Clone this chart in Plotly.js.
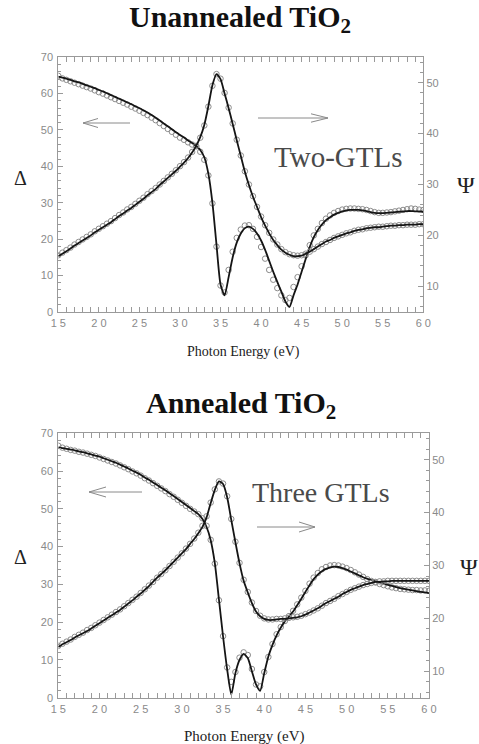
<!DOCTYPE html>
<html>
<head>
<meta charset="utf-8">
<script src="https://cdn.plot.ly/plotly-3.0.1.min.js"></script>
<style>html,body{margin:0;padding:0;background:#fff;}#chart{width:479px;height:744px;}</style>
</head>
<body>
<div id="chart"></div>
<script>
// ---------- data ----------
var energy = [1.5,1.55,1.6,1.65,1.7,1.75,1.8,1.85,1.9,1.95,
2.0,2.05,2.1,2.15,2.2,2.25,2.3,2.35,2.4,2.45,
2.5,2.55,2.6,2.65,2.7,2.75,2.8,2.85,2.9,2.95,
3.0,3.05,3.1,3.15,3.2,3.25,3.3,3.35,3.4,3.45,
3.5,3.55,3.6,3.65,3.7,3.75,3.8,3.85,3.9,3.95,
4.0,4.05,4.1,4.15,4.2,4.25,4.3,4.35,4.4,4.45,
4.5,4.55,4.6,4.65,4.7,4.75,4.8,4.85,4.9,4.95,
5.0,5.05,5.1,5.15,5.2,5.25,5.3,5.35,5.4,5.45,
5.5,5.55,5.6,5.65,5.7,5.75,5.8,5.85,5.9,5.95,
6.0];

// Unannealed TiO2 (two GTLs)
var unDeltaFit = [64.7,64.4,64.1,63.8,63.4,63.1,62.7,62.3,61.9,61.5,
61.0,60.6,60.1,59.6,59.1,58.6,58.1,57.6,57.1,56.5,
56.0,55.4,54.8,54.1,53.4,52.6,51.8,51.0,50.2,49.4,
48.6,47.9,47.1,46.4,45.6,44.5,42.5,38.0,30.0,18.5,
7.5,4.5,9.5,15.0,19.0,21.5,23.0,23.4,22.8,21.5,
19.6,17.0,14.0,11.0,8.2,5.5,2.8,1.3,4.5,7.5,
11.0,14.5,17.8,20.5,22.5,24.0,25.2,26.0,26.7,27.2,
27.6,27.9,28.0,28.0,28.0,27.9,27.7,27.4,27.2,27.1,
27.1,27.2,27.3,27.4,27.5,27.6,27.7,27.7,27.6,27.6,
27.5];
var unDeltaExp = [64.9,64.2,63.8,63.4,63.0,62.6,62.2,61.8,61.4,60.9,
60.4,60.0,59.5,59.0,58.5,58.0,57.5,57.0,56.4,55.9,
55.3,54.7,54.1,53.4,52.7,51.9,51.1,50.3,49.5,48.7,
47.9,47.3,46.6,46.0,45.5,44.0,41.8,37.5,29.8,17.9,
7.2,5.3,11.5,16.5,20.3,22.6,23.7,23.8,22.8,20.6,
17.8,14.6,11.5,8.8,6.5,4.5,3.2,3.8,6.8,9.5,
12.5,15.5,18.3,21.0,22.8,24.4,25.6,26.5,27.2,27.7,
28.1,28.3,28.4,28.4,28.3,28.2,28.0,27.7,27.4,27.2,
27.2,27.3,27.4,27.6,27.8,28.0,28.2,28.4,28.3,28.1,
28.0];
var unPsiFit = [15.9,16.4,16.9,17.4,18.0,18.5,19.0,19.5,20.0,20.6,
21.1,21.6,22.1,22.6,23.2,23.8,24.3,24.9,25.4,26.0,
26.6,27.2,27.9,28.5,29.1,29.9,30.6,31.3,32.0,32.7,
33.5,34.3,35.2,36.3,37.6,39.3,41.7,45.4,49.5,51.7,
50.7,47.9,45.0,41.9,38.7,35.6,32.5,29.9,27.6,25.6,
23.6,21.9,20.4,19.1,18.1,17.2,16.6,16.2,15.9,15.9,
16.0,16.4,16.8,17.3,17.8,18.3,18.8,19.1,19.5,19.8,
20.1,20.4,20.6,20.9,21.1,21.2,21.4,21.5,21.6,21.6,
21.7,21.8,21.9,21.9,22.0,22.0,22.1,22.1,22.1,22.2,
22.2];
var unPsiExp = [16.1,16.6,17.1,17.6,18.2,18.7,19.2,19.7,20.2,20.8,
21.3,21.8,22.3,22.8,23.4,24.0,24.5,25.1,25.6,26.2,
26.8,27.4,28.1,28.7,29.3,30.0,30.7,31.4,32.1,32.8,
33.6,34.4,35.3,36.4,37.6,39.2,41.6,45.3,49.4,51.7,
50.8,48.0,45.1,42.0,38.8,35.7,32.6,30.0,27.7,25.6,
23.7,22.0,20.5,19.2,18.2,17.3,16.7,16.3,16.1,16.0,
16.1,16.4,16.8,17.3,17.8,18.3,18.7,19.1,19.5,19.8,
20.1,20.4,20.6,20.9,21.1,21.2,21.4,21.5,21.6,21.7,
21.7,21.8,21.9,21.9,22.0,22.0,22.1,22.1,22.1,22.2,
22.2];

// Annealed TiO2 (three GTLs)
var anDeltaFit = [66.3,66.1,65.9,65.7,65.5,65.2,65.0,64.7,64.4,64.1,
63.8,63.4,63.0,62.6,62.2,61.7,61.2,60.7,60.1,59.6,
59.0,58.3,57.7,57.0,56.3,55.6,54.9,54.1,53.4,52.6,
51.8,51.0,50.2,49.4,48.6,47.3,45.2,41.7,35.6,26.0,
16.2,7.5,0.8,6.5,10.0,11.6,10.5,7.0,3.5,1.8,
6.5,10.9,14.0,16.5,18.5,20.2,21.5,22.8,24.5,26.2,
28.0,29.8,31.4,32.6,33.5,34.1,34.5,34.7,34.6,34.3,
33.9,33.4,32.9,32.4,31.9,31.5,31.1,30.8,30.5,30.2,
29.9,29.6,29.3,29.0,28.8,28.6,28.4,28.2,28.0,27.9,
27.7];
var anDeltaExp = [66.7,66.2,65.9,65.6,65.4,65.1,64.9,64.6,64.3,64.0,
63.6,63.2,62.8,62.4,62.0,61.5,61.0,60.5,59.9,59.4,
58.8,58.1,57.5,56.8,56.1,55.4,54.7,53.9,53.2,52.4,
51.6,50.8,50.0,49.3,48.6,47.5,45.5,41.8,35.5,25.8,
16.3,8.0,4.2,6.8,10.6,12.0,11.3,7.6,3.5,3.0,
6.8,10.8,14.2,16.8,18.7,20.3,21.6,23.0,24.7,26.5,
28.3,30.2,31.8,33.0,34.0,34.6,35.0,35.1,35.0,34.7,
34.3,33.8,33.2,32.6,32.0,31.4,30.9,30.5,30.1,29.8,
29.5,29.2,29.0,28.8,28.7,28.6,28.5,28.5,28.4,28.4,
28.3];
var anPsiFit = [14.6,15.1,15.5,15.9,16.4,16.8,17.2,17.6,18.1,18.6,
19.1,19.6,20.1,20.6,21.1,21.6,22.2,22.8,23.4,24.1,
24.7,25.4,26.1,26.9,27.7,28.4,29.1,29.9,30.7,31.5,
32.3,33.1,34.1,35.0,36.1,37.3,39.1,41.8,44.3,45.9,
45.4,42.9,38.6,34.4,30.4,27.1,24.9,22.9,21.3,20.4,
19.9,19.7,19.7,19.8,19.9,19.9,20.0,20.1,20.2,20.4,
20.7,21.1,21.5,21.9,22.4,22.9,23.3,23.7,24.1,24.6,
25.0,25.4,25.7,26.0,26.3,26.5,26.7,26.9,26.9,27.0,
27.0,27.1,27.1,27.1,27.1,27.1,27.1,27.1,27.1,27.1,
27.1];
var anPsiExp = [14.8,15.2,15.6,16.0,16.5,16.9,17.3,17.8,18.2,18.7,
19.2,19.7,20.2,20.7,21.2,21.7,22.3,22.9,23.5,24.1,
24.8,25.5,26.2,26.9,27.7,28.4,29.1,29.9,30.7,31.5,
32.3,33.2,34.1,35.1,36.2,37.5,39.3,41.9,44.4,45.9,
45.5,43.1,38.8,34.5,30.5,27.3,25.0,23.0,21.4,20.5,
20.0,19.8,19.8,19.9,19.9,20.0,20.1,20.2,20.3,20.5,
20.8,21.1,21.5,21.9,22.4,22.9,23.3,23.7,24.2,24.6,
25.0,25.4,25.7,26.0,26.3,26.5,26.7,26.9,27.0,27.0,
27.1,27.1,27.1,27.1,27.1,27.1,27.1,27.1,27.1,27.1,
27.1];

var xTickVals = [1.5,2.0,2.5,3.0,3.5,4.0,4.5,5.0,5.5,6.0];
var xTickLabels = ["1 5","2 0","2 5","3 0","3 5","4 0","4 5","5 0","5 5","6 0"];
var deltaTickVals = [0,10,20,30,40,50,60,70];
var psiTickVals = [10,20,30,40,50];

// ---------- layout helpers ----------
var W = 479, H = 744;
function px(x){ return x / W; }
function py(y){ return 1 - y / H; }

var tickFont = {family: "Liberation Sans, Arial, sans-serif", size: 11, color: "#8a8a8a"};
var serif = "Liberation Serif, Times New Roman, serif";
var axisCol = "#9a9a9a";

function xAxis(dom, anchor){
  return {domain: dom, anchor: anchor, range: [1.5, 6.0], tickmode: "array",
    tickvals: xTickVals, ticktext: xTickLabels, ticks: "inside", ticklen: 5,
    tickcolor: axisCol, showline: true, linecolor: axisCol, linewidth: 1,
    mirror: "allticks", showgrid: false, zeroline: false, tickfont: tickFont,
    ticklabelstandoff: 1,
    minor: {ticks: "inside", ticklen: 3, tickcolor: axisCol, tickmode: "linear", tick0: 1.5, dtick: 0.1, showgrid: false}};
}
function yLeft(dom, anchor){
  return {domain: dom, anchor: anchor, range: [0, 70], tickmode: "array",
    tickvals: deltaTickVals, ticks: "inside", ticklen: 5, tickcolor: axisCol,
    showline: true, linecolor: axisCol, linewidth: 1, showgrid: false,
    zeroline: false, tickfont: tickFont, ticklabelstandoff: 2,
    minor: {ticks: "inside", ticklen: 3, tickcolor: axisCol, tickmode: "linear", tick0: 0, dtick: 2, showgrid: false}};
}
function yRight(over, anchor){
  return {overlaying: over, anchor: anchor, side: "right", range: [5, 55],
    tickmode: "array", tickvals: psiTickVals, ticks: "inside", ticklen: 5,
    tickcolor: axisCol, showline: true, linecolor: axisCol, linewidth: 1,
    showgrid: false, zeroline: false, tickfont: tickFont,
    minor: {ticks: "inside", ticklen: 3, tickcolor: axisCol, tickmode: "linear", tick0: 0, dtick: 2, showgrid: false}};
}

function expTrace(y, xa, ya){
  return {x: energy, y: y, xaxis: xa, yaxis: ya, type: "scatter", mode: "markers",
    marker: {symbol: "circle-open", size: 5.5, color: "#8c8c8c", line: {width: 1, color: "#8c8c8c"}},
    hoverinfo: "skip"};
}
function fitTrace(y, xa, ya){
  return {x: energy, y: y, xaxis: xa, yaxis: ya, type: "scatter", mode: "lines",
    line: {color: "#151515", width: 1.8, shape: "spline", smoothing: 0.6},
    hoverinfo: "skip"};
}

var data = [
  expTrace(unDeltaExp, "x", "y"), expTrace(unPsiExp, "x", "y2"),
  fitTrace(unDeltaFit, "x", "y"), fitTrace(unPsiFit, "x", "y2"),
  expTrace(anDeltaExp, "x2", "y3"), expTrace(anPsiExp, "x2", "y4"),
  fitTrace(anDeltaFit, "x2", "y3"), fitTrace(anPsiFit, "x2", "y4")
];

function ann(text, x, y, size, opts){
  var a = {text: text, x: px(x), y: py(y), xref: "paper", yref: "paper",
    showarrow: false, xanchor: "center", yanchor: "middle",
    font: {family: serif, size: size, color: "#222"}};
  if (opts) for (var k in opts) a[k] = opts[k];
  return a;
}

var annotations = [
  ann("<b>Unannealed TiO<sub>2</sub></b>", 240, 19, 30, {font: {family: serif, size: 30, color: "#111"}}),
  ann("<b>Annealed TiO<sub>2</sub></b>", 241, 405, 30, {font: {family: serif, size: 30, color: "#111"}}),
  ann("Photon Energy (eV)", 243, 352, 14),
  ann("Photon Energy (eV)", 244, 736, 15),
  ann("\u0394", 20, 178, 20),
  ann("\u03A8", 466, 185, 24),
  ann("\u0394", 20, 557, 20),
  ann("\u03A8", 469, 567, 24),
  ann("Two-GTLs", 338, 157, 29, {font: {family: serif, size: 29, color: "#4a4a4a"}}),
  ann("Three GTLs", 321, 492, 28, {font: {family: serif, size: 28, color: "#4a4a4a"}})
];

function arrowPath(x1, x2, y, headLen, headHalf){
  // line from x1 to tip x2 with open chevron head at x2
  var dir = x2 > x1 ? -1 : 1;
  var hx = x2 + dir * headLen;
  return "M" + px(x1) + "," + py(y) + " L" + px(x2) + "," + py(y) +
    " M" + px(hx) + "," + py(y - headHalf) + " L" + px(x2) + "," + py(y) +
    " L" + px(hx) + "," + py(y + headHalf);
}
var arrowLine = {color: "#8a8a8a", width: 1};
var shapes = [
  {type: "path", xref: "paper", yref: "paper", path: arrowPath(130, 83, 123, 15, 4.5), line: arrowLine},
  {type: "path", xref: "paper", yref: "paper", path: arrowPath(258, 328, 118, 17, 4.2), line: arrowLine},
  {type: "path", xref: "paper", yref: "paper", path: arrowPath(142, 89, 492, 17, 5), line: arrowLine},
  {type: "path", xref: "paper", yref: "paper", path: arrowPath(257, 315, 527, 16, 5), line: arrowLine}
];

var layout = {
  width: W, height: H, margin: {l: 0, r: 0, t: 0, b: 0},
  paper_bgcolor: "#fff", plot_bgcolor: "#fff", showlegend: false,
  xaxis: xAxis([px(58.3), px(423.3)], "y"),
  yaxis: yLeft([py(311.7), py(57.3)], "x"),
  yaxis2: yRight("y", "x"),
  xaxis2: xAxis([px(58.3), px(429)], "y3"),
  yaxis3: yLeft([py(697.7), py(433.3)], "x2"),
  yaxis4: yRight("y3", "x2"),
  annotations: annotations,
  shapes: shapes
};

Plotly.newPlot("chart", data, layout, {staticPlot: true, displayModeBar: false});
</script>
</body>
</html>
